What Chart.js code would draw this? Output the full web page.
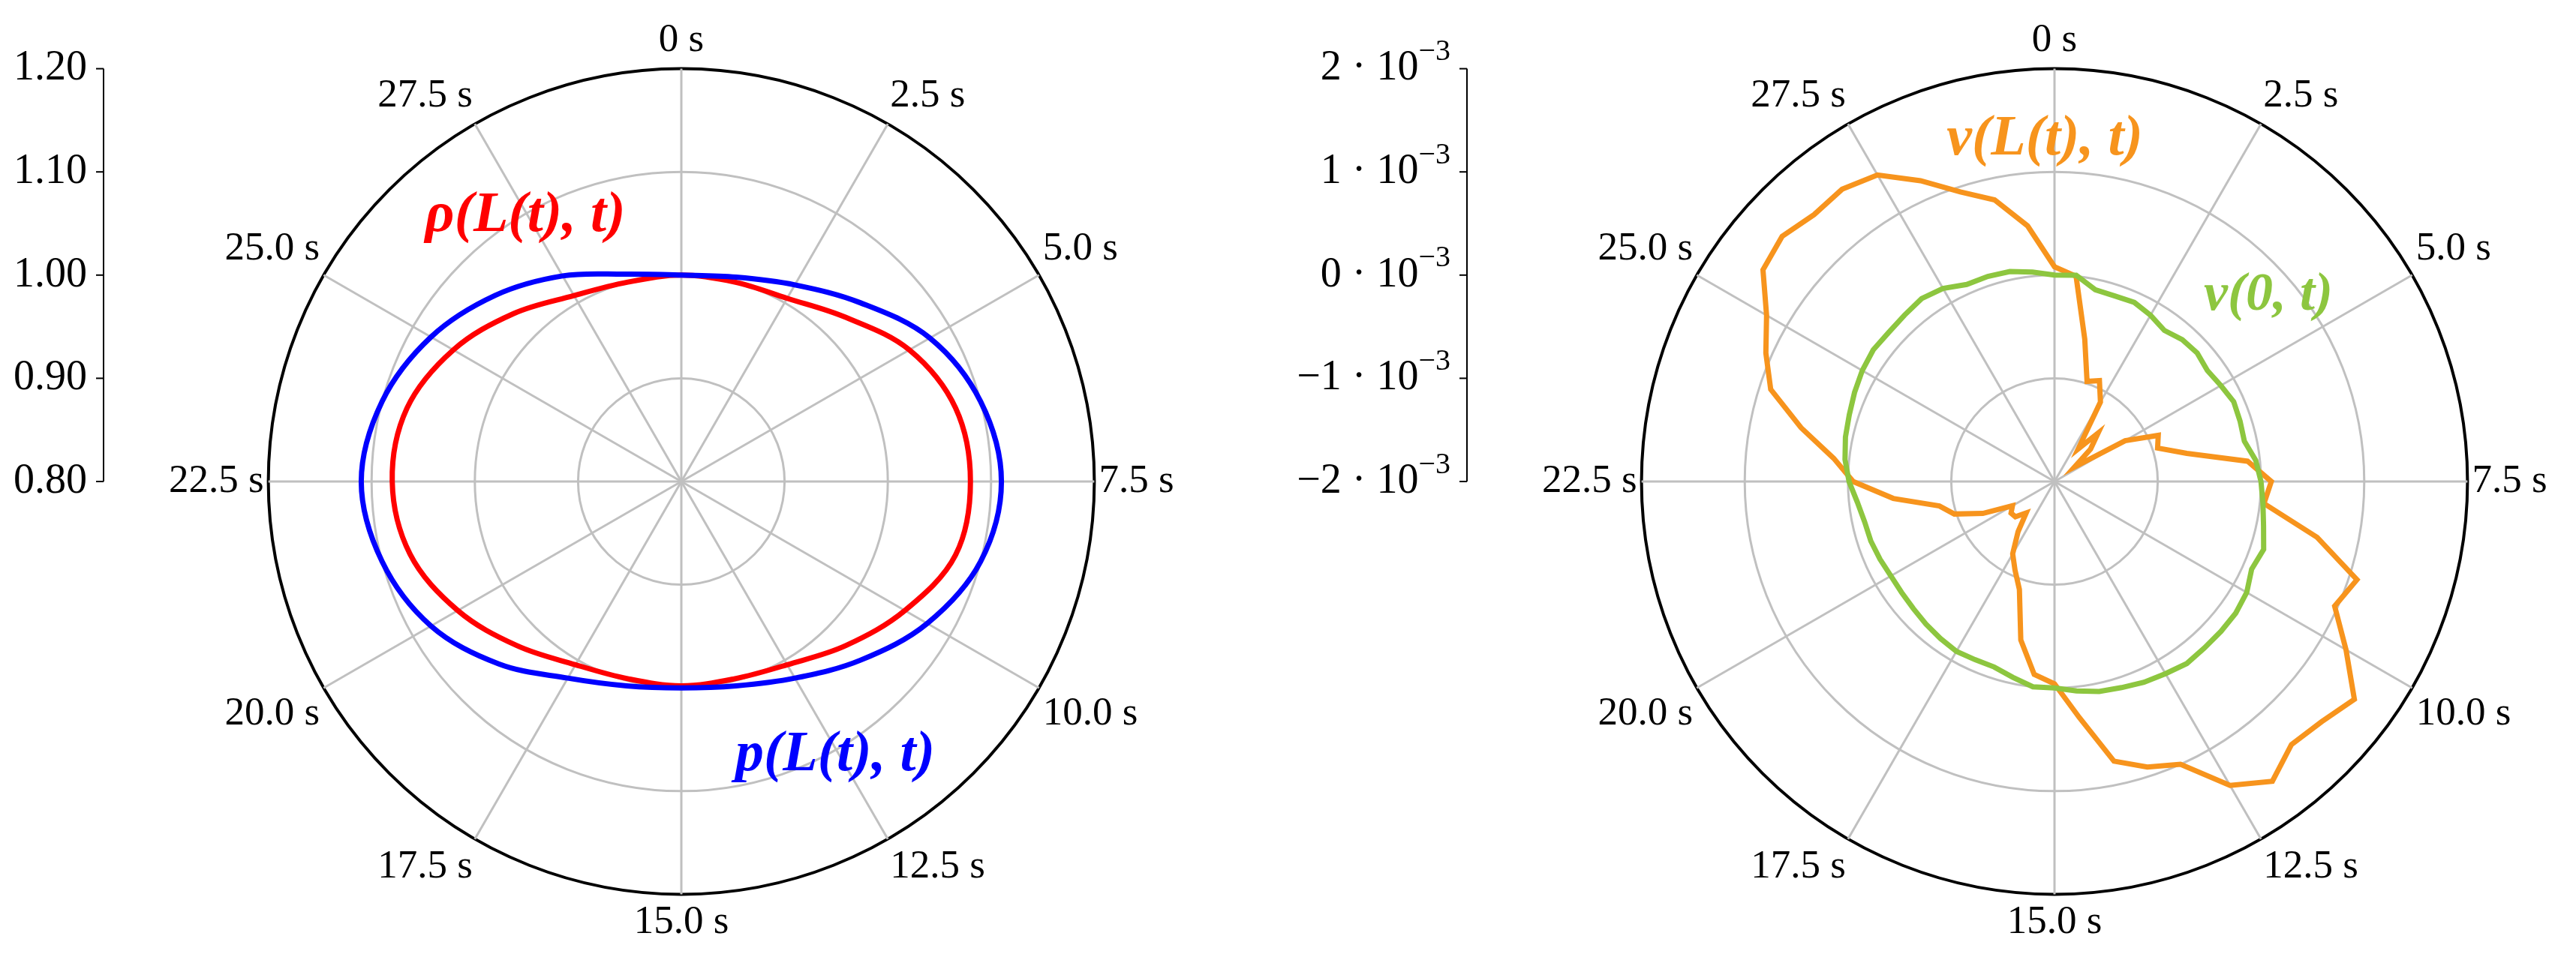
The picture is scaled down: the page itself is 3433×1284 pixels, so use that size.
<!DOCTYPE html>
<html>
<head>
<meta charset="utf-8">
<script src="https://cdn.jsdelivr.net/npm/chart.js@4"></script>
<style>
  html, body { margin: 0; padding: 0; background: #fff; overflow: hidden; }
  #wrap { position: relative; width: 3433px; height: 1284px; }
  canvas { position: absolute; top: 0; }
</style>
</head>
<body>
<div id="wrap">
  <canvas id="left" width="1690" height="1284" style="left:0"></canvas>
  <canvas id="right" width="1743" height="1284" style="left:1690px"></canvas>
</div>
<script>
// left plot: one sample every 1.25 s
var leftTimes = [0, 1.25, 2.5, 3.75, 5, 6.25, 7.5, 8.75, 10, 11.25, 12.5, 13.75,
  15, 16.25, 17.5, 18.75, 20, 21.25, 22.5, 23.75, 25, 26.25, 27.5, 28.75];
var pressure = [1.00, 1.005, 1.02, 1.045, 1.078, 1.10, 1.11, 1.10, 1.075, 1.045, 1.02, 1.005,
  1.00, 1.005, 1.02, 1.05, 1.08, 1.10, 1.11, 1.10, 1.08, 1.055, 1.03, 1.008];
var density = [1.00, 1.00, 1.005, 1.025, 1.055, 1.075, 1.08, 1.075, 1.05, 1.025, 1.005, 0.998,
  0.998, 0.998, 1.005, 1.025, 1.05, 1.072, 1.08, 1.075, 1.055, 1.03, 1.008, 1.00];
var leftTicks = [0.8, 0.9, 1.0, 1.1, 1.2];
var leftTickLabels = ['0.80', '0.90', '1.00', '1.10', '1.20'];

// right plot: one sample every 0.5 s, values in 1e-3
var rightTimes = [];
for (var i = 0; i < 60; i++) rightTimes.push(i * 0.5);
var velEnd = [0.08, 0.00, -0.59, -0.98, -0.93, -1.11, -1.61, -1.37, -1.53, -1.76, -1.21, -0.90, -0.95, -0.69, -0.12,
  0.10, 0.04, 0.60, 1.08, 0.97, 1.26, 1.59, 1.48, 1.43, 1.59, 1.40, 1.00, 0.91, 0.77, 0.30,
  -0.04, -0.12, -0.43, -0.90, -1.06, -1.19, -1.40, -1.59, -1.49, -1.48, -1.53, -1.24, -0.98, -0.86, -0.43,
  -0.05, 0.15, 0.51, 0.89, 1.06, 1.22, 1.49, 1.55, 1.48, 1.50, 1.43, 1.19, 0.95, 0.79, 0.49];
var velStart = [0.00, 0.01, -0.10, -0.11, -0.10, -0.14, -0.19, -0.15, -0.14, -0.17, -0.14, -0.10, -0.11, -0.12, -0.04,
  0.00, 0.03, 0.07, 0.13, 0.09, 0.15, 0.17, 0.17, 0.17, 0.18, 0.15, 0.13, 0.10, 0.08, 0.04,
  0.00, 0.00, -0.06, -0.11, -0.11, -0.10, -0.12, -0.14, -0.16, -0.17, -0.17, -0.15, -0.13, -0.12, -0.08,
  -0.01, 0.04, 0.07, 0.09, 0.12, 0.15, 0.17, 0.16, 0.17, 0.19, 0.16, 0.09, 0.09, 0.08, 0.04];
var rightTicks = [-2, -1, 0, 1, 2];
var rightTickLabels = ['\u22122 \u00b7 10', '\u22121 \u00b7 10', '0 \u00b7 10', '1 \u00b7 10', '2 \u00b7 10'];

var FONT = '"Liberation Serif", "DejaVu Serif", serif';

function timeLabel(t) {
  return t === 0 ? '0 s' : t.toFixed(1) + ' s';
}

// side axis + curve names drawn on top of the chart
var extras = {
  id: 'extras',
  afterDraw: function (chart, args, opts) {
    var ctx = chart.ctx;
    var r = chart.scales.r;
    ctx.save();
    ctx.strokeStyle = '#000';
    ctx.lineWidth = 2;
    ctx.beginPath();
    ctx.moveTo(opts.axisX, r.yCenter - r.getDistanceFromCenterForValue(opts.ticks[0]));
    ctx.lineTo(opts.axisX, r.yCenter - r.getDistanceFromCenterForValue(opts.ticks[opts.ticks.length - 1]));
    ctx.stroke();
    ctx.fillStyle = '#000';
    ctx.textBaseline = 'middle';
    opts.ticks.forEach(function (v, k) {
      var y = r.yCenter - r.getDistanceFromCenterForValue(v);
      ctx.beginPath();
      ctx.moveTo(opts.axisX - 10, y);
      ctx.lineTo(opts.axisX, y);
      ctx.stroke();
      var x = opts.axisX - 22;
      if (opts.sup) {
        ctx.font = '40px ' + FONT;
        ctx.textAlign = 'right';
        ctx.fillText(opts.sup, x, y - 22);
        x -= ctx.measureText(opts.sup).width;
      }
      ctx.font = '56px ' + FONT;
      ctx.textAlign = 'right';
      ctx.fillText(opts.tickLabels[k], x, y);
    });
    opts.names.forEach(function (n) {
      ctx.font = n.font + ' ' + n.size + 'px ' + FONT;
      ctx.fillStyle = n.color;
      ctx.textAlign = 'center';
      ctx.fillText(n.text, n.x, n.y);
    });
    ctx.restore();
  }
};

function polarOptions(min, max, step, every, padLeft, extraOpts) {
  return {
    responsive: false,
    devicePixelRatio: 1,
    animation: false,
    layout: { padding: { left: padLeft, top: 22, bottom: 22 } },
    elements: { point: { radius: 0 } },
    plugins: { legend: { display: false }, tooltip: { enabled: false }, extras: extraOpts },
    scales: {
      r: {
        min: min,
        max: max,
        ticks: { display: false, stepSize: step },
        grid: {
          circular: true,
          lineWidth: function (c) { return c.tick && c.tick.value === max ? 4 : 3; },
          color: function (c) { return c.tick && c.tick.value === max ? '#000' : '#c0c0c0'; }
        },
        angleLines: {
          lineWidth: 3,
          color: function (c) { return c.index % every === 0 ? '#c0c0c0' : 'rgba(0,0,0,0)'; }
        },
        pointLabels: {
          color: '#000',
          padding: 6,
          font: { family: FONT, size: 53 },
          callback: function (label, index) { return index % every === 0 ? label : ''; }
        }
      }
    }
  };
}

new Chart(document.getElementById('left'), {
  type: 'radar',
  plugins: [extras],
  data: {
    labels: leftTimes.map(timeLabel),
    datasets: [
      { data: pressure, borderColor: '#0000ff', borderWidth: 7, fill: false, tension: 0.35 },
      { data: density, borderColor: '#ff0000', borderWidth: 7, fill: false, tension: 0.35 }
    ]
  },
  options: polarOptions(0.8, 1.2, 0.1, 2, 126, {
    axisX: 138, ticks: leftTicks, tickLabels: leftTickLabels, sup: null,
    names: [
      { text: '\u03c1(L(t), t)', x: 700, y: 288, color: '#ff0000', font: 'italic bold', size: 76 },
      { text: 'p(L(t), t)', x: 1113, y: 1007, color: '#0000ff', font: 'italic bold', size: 76 }
    ]
  })
});

new Chart(document.getElementById('right'), {
  type: 'radar',
  plugins: [extras],
  data: {
    labels: rightTimes.map(timeLabel),
    datasets: [
      { data: velStart, borderColor: '#8dc63f', borderWidth: 7, fill: false, tension: 0 },
      { data: velEnd, borderColor: '#f7941d', borderWidth: 7, fill: false, tension: 0 }
    ]
  },
  options: polarOptions(-2, 2, 1, 5, 327, {
    axisX: 265, ticks: rightTicks, tickLabels: rightTickLabels, sup: '\u22123',
    names: [
      { text: 'v(L(t), t)', x: 1035, y: 186, color: '#f7941d', font: 'italic bold', size: 76 },
      { text: 'v(0, t)', x: 1333, y: 394, color: '#8dc63f', font: 'italic bold', size: 72 }
    ]
  })
});
</script>
</body>
</html>
